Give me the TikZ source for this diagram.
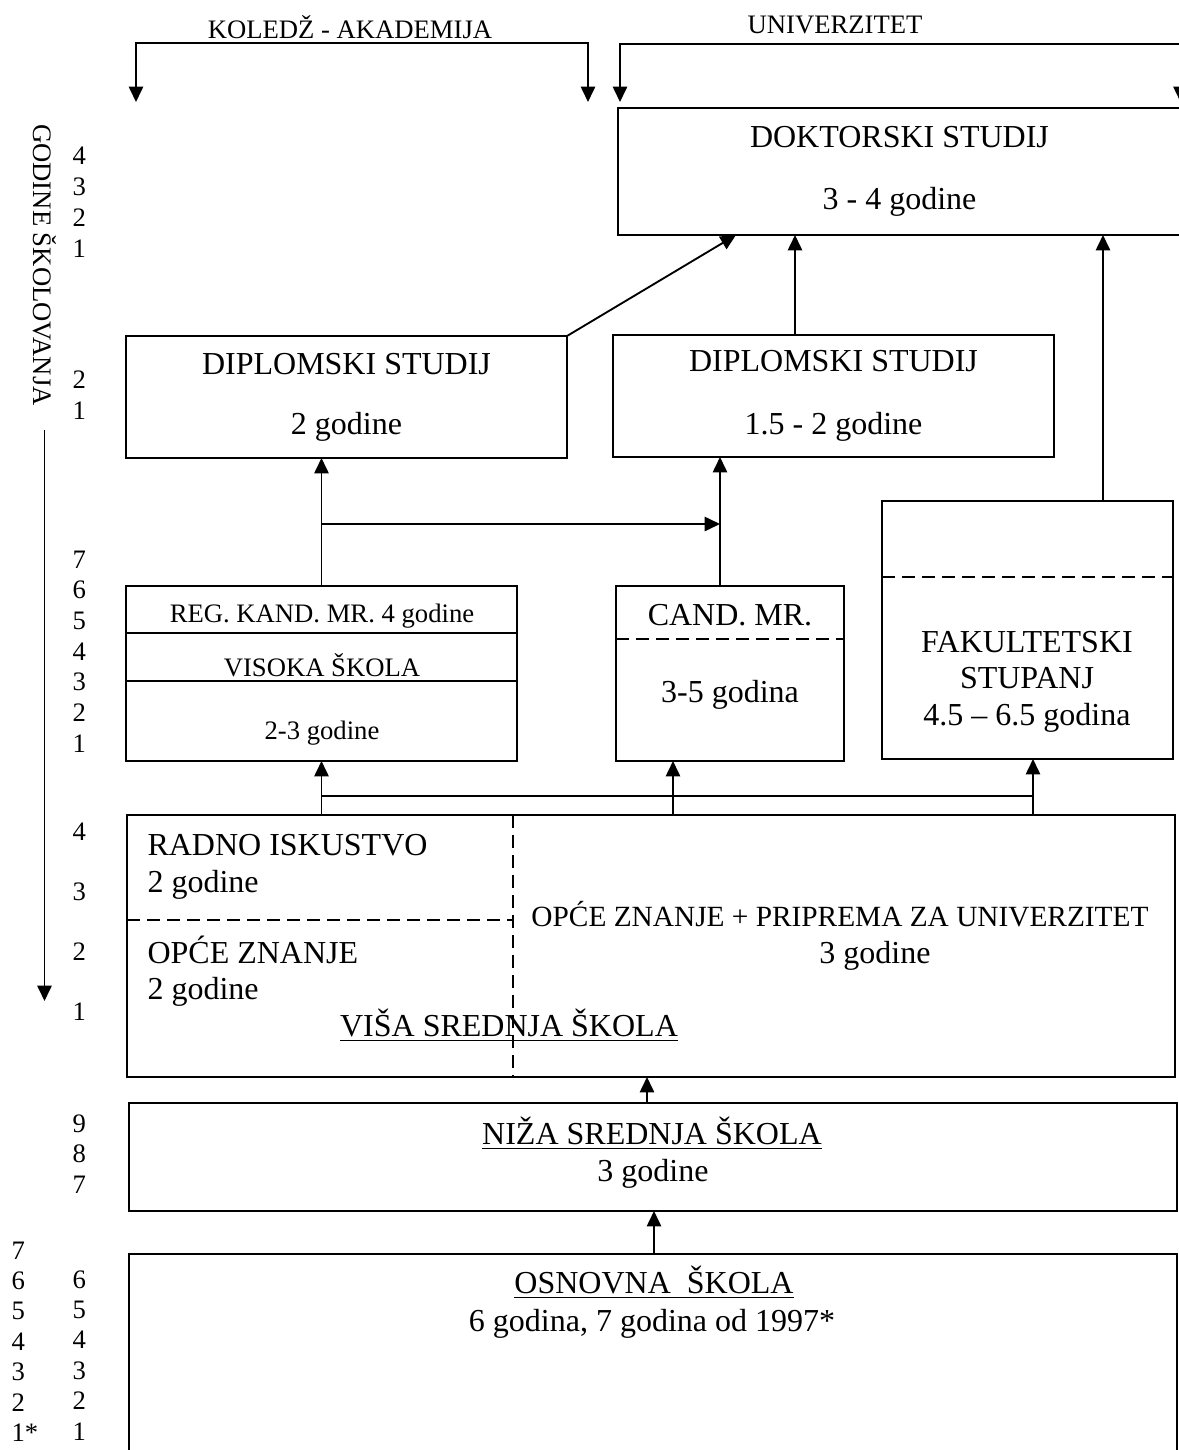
\documentclass[tikz,border=0pt]{standalone}
\usepackage{fontspec}
\setmainfont{Liberation Serif}
\usetikzlibrary{arrows.meta}

\newcommand{\pxu}{0.375pt}
\newcommand{\mainsize}{\fontsize{12}{14}\selectfont}
\newcommand{\smallsize}{\fontsize{10}{11.5}\selectfont}
\newcommand{\widesize}{\fontsize{11}{13}\selectfont}

\begin{document}
\begin{tikzpicture}[
  x=0.375pt, y=-0.375pt,
  font=\mainsize,
  >={Triangle[length=5.8pt, width=5.4pt]},
  box/.style={draw, line width=0.7pt, inner sep=0pt, outer sep=0pt,
              anchor=north west, align=center, font=\mainsize},
  txt/.style={anchor=base, inner sep=0pt, font=\mainsize},
  smalltxt/.style={anchor=base, inner sep=0pt, font=\smallsize},
  lefttxt/.style={anchor=base west, inner sep=0pt, font=\mainsize},
  num/.style={anchor=base west, inner sep=0pt, font=\smallsize},
  link/.style={line width=0.7pt},
  flow/.style={link, ->},
  bracket/.style={link, <->},
  divider/.style={line width=0.7pt},
  dashdiv/.style={line width=0.7pt, dash pattern=on 5pt off 2.5pt},
]
\useasboundingbox (0,0) rectangle (1179,1450);
\clip (0,0) rectangle (1179,1450);

% Studies
\node[box, minimum width=563*\pxu, minimum height=127*\pxu] (dokt) at (618,108)
  {DOKTORSKI STUDIJ\\[9pt]3 - 4 godine};
\node[box, minimum width=441*\pxu, minimum height=122*\pxu] (diplA) at (126,336)
  {DIPLOMSKI STUDIJ\\[8.5pt]2 godine};
\node[box, minimum width=441*\pxu, minimum height=122*\pxu] (diplB) at (613,335)
  {DIPLOMSKI STUDIJ\\[9.5pt]1.5 - 2 godine};

% First degrees
\node[box, minimum width=391*\pxu, minimum height=175*\pxu] (reg) at (126,586) {};
\node[box, minimum width=228*\pxu, minimum height=175*\pxu] (cand) at (616,586) {};
\node[box, minimum width=291*\pxu, minimum height=258*\pxu] (fak) at (882,501) {};

% Schools
\node[box, minimum width=1048*\pxu, minimum height=262*\pxu] (visa) at (127,815) {};
\node[box, minimum width=1048*\pxu, minimum height=108*\pxu] (niza) at (129,1103) {};
\node[box, minimum width=1048*\pxu, minimum height=210*\pxu] (osn) at (129,1254) {};

% Dividers
\draw[divider] (reg.west |- 0,633) -- (reg.east |- 0,633);
\draw[divider] (reg.west |- 0,681) -- (reg.east |- 0,681);
\draw[dashdiv] (cand.west |- 0,639) -- (cand.east |- 0,639);
\draw[dashdiv] (fak.west |- 0,577) -- (fak.east |- 0,577);
\draw[dashdiv] (513,0 |- visa.north) -- (513,0 |- visa.south);
\draw[dashdiv] (visa.west |- 0,920) -- (513,920);

% Box texts
\node[smalltxt] (regT) at (322,622) {REG. KAND. MR. 4 godine};
\node[smalltxt] (visT) at (322,676) {VISOKA ŠKOLA};
\node[smalltxt] (regY) at (322,739) {2-3 godine};
\node[txt] (candT) at (730,625) {CAND. MR.};
\node[txt] (candY) at (730,702) {3-5 godina};
\node[txt] (fakT) at (1027,652) {FAKULTETSKI};
\node[txt] (fakS) at (1027,688) {STUPANJ};
\node[txt] (fakY) at (1027,725) {4.5 – 6.5 godina};
\node[lefttxt] (radT) at (147,855) {RADNO ISKUSTVO};
\node[lefttxt] (radY) at (147,892) {2 godine};
\node[lefttxt] (opcT) at (147,963) {OPĆE ZNANJE};
\node[lefttxt] (opcY) at (147,999) {2 godine};
\node[txt, font=\widesize] (pripT) at (840,926) {OPĆE ZNANJE + PRIPREMA ZA UNIVERZITET};
\node[txt] (pripY) at (875,963) {3 godine};
\node[txt] (visaT) at (509,1036) {\underline{VIŠA SREDNJA ŠKOLA}};
\node[txt] (nizaT) at (652,1144) {\underline{NIŽA SREDNJA ŠKOLA}};
\node[txt] (nizaY) at (653,1181) {3 godine};
\node[txt] (osnT) at (654,1293) {\underline{OSNOVNA\ \ ŠKOLA}};
\node[txt] (osnY) at (652,1331) {6 godina, 7 godina od 1997*};

% Columns and rows for connectors
\coordinate (colDiag) at (736,0);
\coordinate (colB) at (720,0);
\coordinate (colC) at (795,0);
\coordinate (colD) at (1103,0);
\coordinate (colE) at (673,0);
\coordinate (colF) at (1033,0);
\coordinate (colG) at (647,0);
\coordinate (colH) at (654,0);
\coordinate (rowJoin) at (0,524);
\coordinate (rowBus) at (0,796);

% Connectors
\draw[flow] (diplA.north east) -- (colDiag |- dokt.south);
\draw[flow] (colC |- diplB.north) -- (colC |- dokt.south);
\draw[flow] (colD |- fak.north) -- (colD |- dokt.south);
\draw[flow] (reg.north) -- (reg.north |- diplA.south);
\draw[flow] (reg.north |- rowJoin) -- (colB |- rowJoin);
\draw[flow] (colB |- cand.north) -- (colB |- diplB.south);
\draw[flow] (reg.south |- visa.north) -- (reg.south);
\draw[flow] (colE |- visa.north) -- (colE |- cand.south);
\draw[flow] (colF |- visa.north) -- (colF |- fak.south);
\draw[link] (reg.south |- rowBus) -- (colF |- rowBus);
\draw[flow] (colG |- niza.north) -- (colG |- visa.south);
\draw[flow] (colH |- osn.north) -- (colH |- niza.south);

% Top brackets
\coordinate (kolL) at (136,102);
\coordinate (kolR) at (588,102);
\coordinate (barK) at (0,43);
\draw[bracket] (kolL) |- (barK -| kolR) -- (kolR);
\node[smalltxt] (kol) at (350,38) {KOLEDŽ - AKADEMIJA};
\coordinate (uniL) at (620,102);
\coordinate (uniR) at (1180.5,102);
\coordinate (barU) at (0,44);
\draw[bracket] (uniL) |- (barU -| uniR) -- (uniR);
\node[smalltxt] (uni) at (835,33) {UNIVERZITET};

% Years axis
\node[smalltxt, rotate=-90, anchor=center] (axis) at (44.5,265) {GODINE ŠKOLOVANJA};
\coordinate (axisEnd) at (0,1001);
\draw[flow, shorten <=9pt] (axis.east) -- (axis.east |- axisEnd);

% Year numbers
\foreach \n [count=\i from 0] in {4,3,2,1}
  \node[num] (ya\i) at (72,164+31*\i) {\n};
\foreach \n [count=\i from 0] in {2,1}
  \node[num] (yb\i) at (72,388+31*\i) {\n};
\foreach \n [count=\i from 0] in {7,6,5,4,3,2,1}
  \node[num] (yc\i) at (72,568+30.7*\i) {\n};
\foreach \n [count=\i from 0] in {4,3,2,1}
  \node[num] (yd\i) at (72,840+60*\i) {\n};
\foreach \n [count=\i from 0] in {9,8,7}
  \node[num] (ye\i) at (72,1132+30.5*\i) {\n};
\foreach \n [count=\i from 0] in {6,5,4,3,2,1}
  \node[num] (yf\i) at (72,1288+30.4*\i) {\n};
\foreach \n [count=\i from 0] in {7,6,5,4,3,2,1*}
  \node[num] (yg\i) at (11,1259+30.4*\i) {\n};

\end{tikzpicture}
\end{document}
